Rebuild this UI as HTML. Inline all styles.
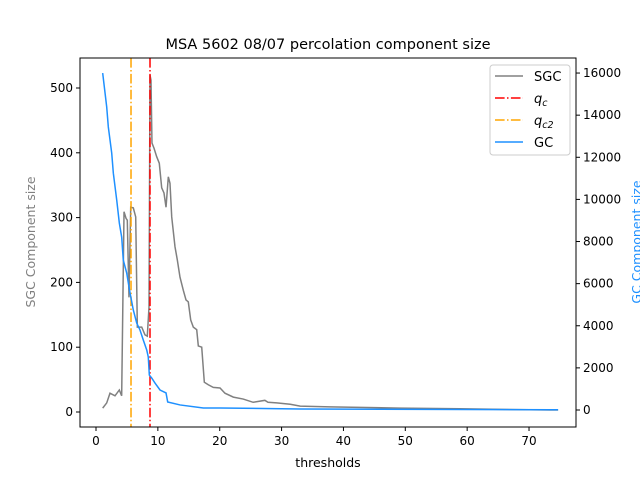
<!DOCTYPE html>
<html><head><meta charset="utf-8"><style>
body{margin:0;background:#fff;font-family:"Liberation Sans","DejaVu Sans",sans-serif}
svg text{font-family:"DejaVu Sans","Liberation Sans",sans-serif}
</style></head><body>
<svg id="c" width="640" height="480" xmlns="http://www.w3.org/2000/svg"></svg>
<script>
const sgcX=[1.08,1.73,2.26,3.07,3.77,4.15,4.53,4.85,5.06,5.33,5.61,6.03,6.42,6.68,7.39,7.92,8.29,8.57,8.73,8.89,9.05,9.38,9.81,10.23,10.62,10.99,11.32,11.69,11.96,12.24,12.77,13.14,13.58,14.11,14.55,14.92,15.31,15.73,16.28,16.54,17.09,17.51,18.15,18.96,20.05,20.85,22.2,23.8,25.4,27.3,27.8,29.2,31.4,33.0,37.8,49.1,58.8,73.4,74.7];
const sgcY=[6,14,29,25,34,25,309,299,296,177,316,315,301,131,131,119,117,162,520,512,415,407,394,384,346,338,316,363,353,301,255,235,208,188,173,170,142,131,127,102,100,46,42,38,37,29,23,20,15,18,15,14,12,9,8,6,5,3,3];
const gcX=[1.08,1.73,1.99,2.54,2.80,3.35,3.77,4.15,4.41,4.96,5.50,6.03,6.58,7.11,7.65,8.20,8.45,8.62,9.00,9.54,10.35,11.32,11.59,13.58,17.35,20.05,33.0,73.4,74.7];
const gcY=[16000,14390,13440,12200,11250,9970,8880,8210,7120,6510,5560,4750,4130,3800,3320,2850,2520,1660,1520,1280,950,810,380,240,95,95,50,10,10];
const qc=8.73, qc2=5.66;
const xTicks=[0,10,20,30,40,50,60,70];
const yTicks=[0,100,200,300,400,500];
const y2Ticks=[0,2000,4000,6000,8000,10000,12000,14000,16000];
const L=80,R=576,T=58,B=427;
const xs=v=>96+v*6.186, ys=v=>412-v*0.648, y2s=v=>410-v*0.02106;
const svg=document.getElementById('c');
const NS='http://www.w3.org/2000/svg';
function mk(t,a,p){const e=document.createElementNS(NS,t);for(const k in a)e.setAttribute(k,a[k]);(p||svg).appendChild(e);return e;}
function txt(s,x,y,a){const e=mk('text',Object.assign({x:x,y:y,'font-size':13},a));e.textContent=s;return e;}
let e;
e=mk('path',{d:'M'+sgcX.map((x,i)=>xs(x)+','+ys(sgcY[i])).join('L'),fill:'none',stroke:'#808080','stroke-width':1.5});


e=mk('line',{x1:xs(qc),x2:xs(qc),y1:T,y2:B,stroke:'red','stroke-width':1.5,'stroke-dasharray':'9.6,2.4,1.5,2.4'});


e=mk('line',{x1:xs(qc2),x2:xs(qc2),y1:T,y2:B,stroke:'orange','stroke-width':1.5,'stroke-dasharray':'9.6,2.4,1.5,2.4'});


e=mk('path',{d:'M'+gcX.map((x,i)=>xs(x)+','+y2s(gcY[i])).join('L'),fill:'none',stroke:'#1e90ff','stroke-width':1.5});


e=mk('rect',{x:L,y:T,width:R-L,height:B-T,fill:'none',stroke:'#000','stroke-width':1});


xTicks.forEach(v=>{mk('line',{x1:xs(v),x2:xs(v),y1:B,y2:B+4,stroke:'#000'});
 e=txt(v,xs(v),B+18,{'text-anchor':'middle','font-size':12});
 
 });
yTicks.forEach(v=>{mk('line',{x1:L-4,x2:L,y1:ys(v),y2:ys(v),stroke:'#000'});
 e=txt(v,L-7,ys(v)+4,{'text-anchor':'end','font-size':12});
 
 });
y2Ticks.forEach(v=>{mk('line',{x1:R,x2:R+4,y1:y2s(v),y2:y2s(v),stroke:'#000'});
 e=txt(v,R+7,y2s(v)+4,{'font-size':12});
 
 });
e=txt('MSA 5602 08/07 percolation component size',328,49,{'text-anchor':'middle','font-size':14.5});


e=txt('thresholds',328,467,{'text-anchor':'middle','font-size':12.5});


e=txt('SGC Component size',35,242,{'text-anchor':'middle','font-size':12.5,fill:'#808080',transform:'rotate(-90 35 242)'});


e=txt('GC Component size',641,242,{'text-anchor':'middle','font-size':12.5,fill:'#1e90ff',transform:'rotate(-90 641 242)'});


const lg=mk('g',{});


mk('rect',{x:490,y:65,width:80,height:90,rx:3,fill:'#fff',stroke:'#ccc'},lg);
const items=[['SGC','#808080',0,''],['q','red',1,'c'],['q','orange',1,'c2'],['GC','#1e90ff',0,'']];
items.forEach((it,i)=>{const y=76+i*22;
 mk('line',{x1:495,x2:523,y1:y,y2:y,stroke:it[1],'stroke-width':1.5,'stroke-dasharray':it[2]?'9.6,2.4,1.5,2.4':''},lg);
 const t=mk('text',{x:534,y:y+5,'font-size':13},lg);
 if(it[2]){t.setAttribute('font-style','italic');t.textContent=it[0];const s=mk('tspan',{'font-size':9.5,dy:3},t);s.textContent=it[3];}
 else t.textContent=it[0];
 
 });
</script>
</body></html>
